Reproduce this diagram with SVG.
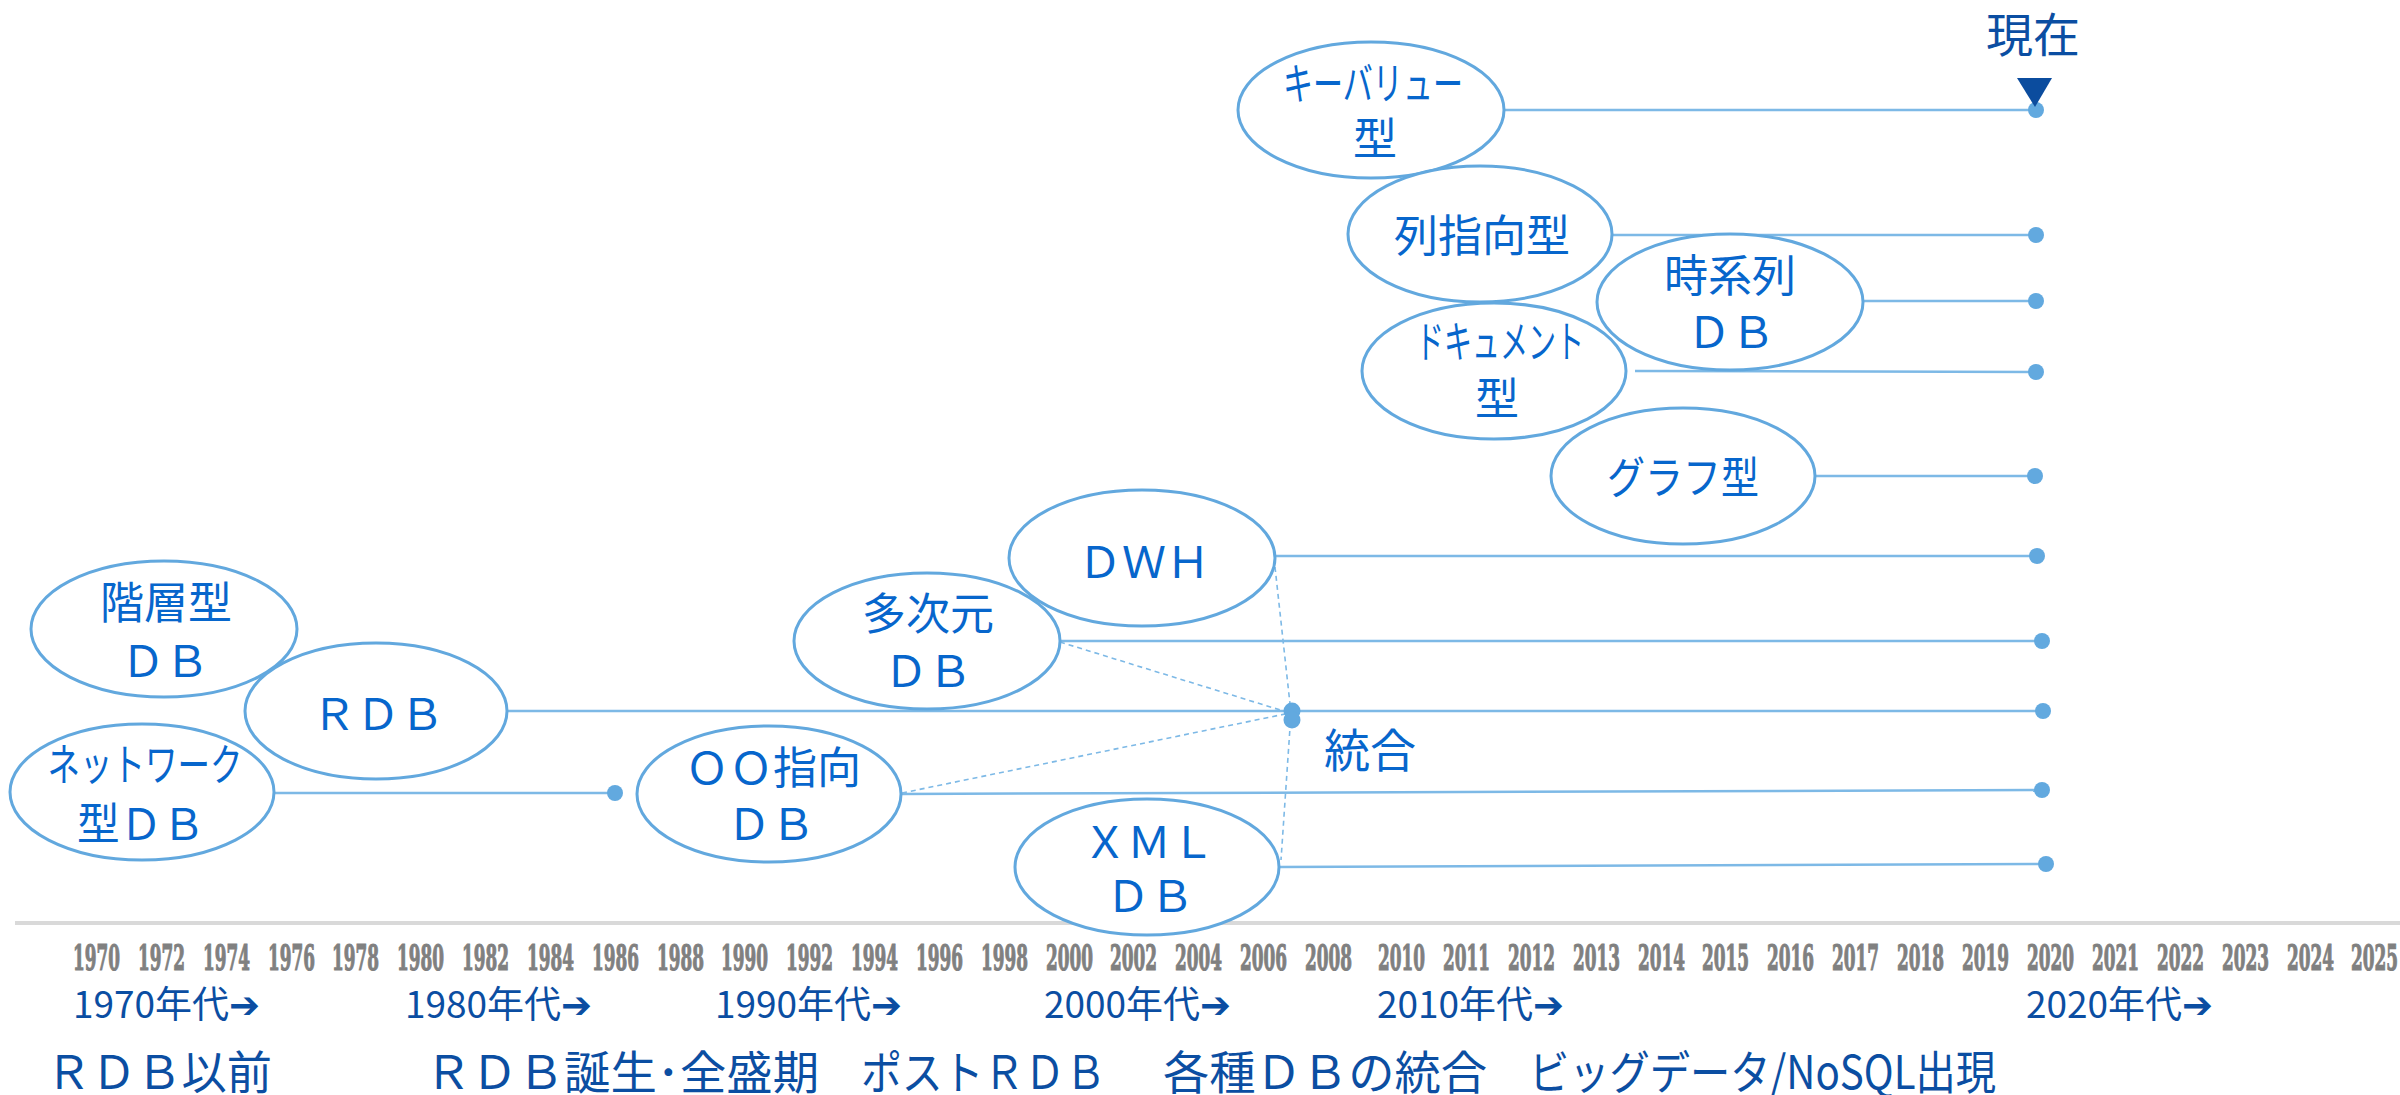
<svg xmlns="http://www.w3.org/2000/svg" width="2400" height="1095" viewBox="0 0 2400 1095">
<style>
.node ellipse{fill:#fff;stroke:#62A8DE;stroke-width:3}
.nt{font-family:"Noto Sans CJK JP","Noto Sans",sans-serif;font-size:44px;fill:#0766CC;text-anchor:middle}
.ln{stroke:#7DB9E6;stroke-width:2.5;fill:none}
.dash{stroke:#7DB9E6;stroke-width:1.6;stroke-dasharray:5 4;fill:none}
.dot{fill:#62A9DF}
.yr{font-family:"DejaVu Serif","Liberation Serif",serif;font-weight:bold;font-size:35px;fill:#808080;stroke:#808080;stroke-width:1.2}
.dec{font-family:"Noto Sans CJK JP","DejaVu Sans",sans-serif;font-size:37px;fill:#0B4EA2}
.era{font-family:"Noto Sans CJK JP","Noto Sans",sans-serif;font-size:46px;fill:#0B4EA2}
</style>
<rect width="2400" height="1095" fill="#fff"/>
<line x1="15" y1="923" x2="2400" y2="923" stroke="#d9d9d9" stroke-width="4"/>

<g id="connectors">
<line class="ln" x1="1504" y1="110" x2="2036" y2="110"/>
<line class="ln" x1="1612" y1="235" x2="2036" y2="235"/>
<line class="ln" x1="1863" y1="301" x2="2036" y2="301"/>
<line class="ln" x1="1635" y1="371" x2="2036" y2="372"/>
<line class="ln" x1="1815" y1="476" x2="2035" y2="476"/>
<line class="ln" x1="1275" y1="556" x2="2037" y2="556"/>
<line class="ln" x1="1060" y1="641" x2="2042" y2="641"/>
<line class="ln" x1="507" y1="711" x2="2043" y2="711"/>
<line class="ln" x1="900" y1="794" x2="2042" y2="790"/>
<line class="ln" x1="1279" y1="867" x2="2046" y2="864"/>
<line class="ln" x1="274" y1="793" x2="615" y2="793"/>
<line class="dash" x1="1275" y1="567" x2="1291" y2="713"/>
<line class="dash" x1="1291" y1="713" x2="1281" y2="860"/>
<line class="dash" x1="1060" y1="642" x2="1290" y2="713"/>
<line class="dash" x1="902" y1="793" x2="1290" y2="713"/>
<circle class="dot" cx="2036" cy="110" r="8"/>
<circle class="dot" cx="2036" cy="235" r="8"/>
<circle class="dot" cx="2036" cy="301" r="8"/>
<circle class="dot" cx="2036" cy="372" r="8"/>
<circle class="dot" cx="2035" cy="476" r="8"/>
<circle class="dot" cx="2037" cy="556" r="8"/>
<circle class="dot" cx="2042" cy="641" r="8"/>
<circle class="dot" cx="2043" cy="711" r="8"/>
<circle class="dot" cx="2042" cy="790" r="8"/>
<circle class="dot" cx="2046" cy="864" r="8"/>
<circle class="dot" cx="615" cy="793" r="8"/>
<circle class="dot" cx="1292" cy="711" r="8.5"/>
<circle class="dot" cx="1292" cy="720" r="8.5"/>
</g>

<g id="node-keyvalue" class="node">
<ellipse cx="1371" cy="110" rx="133" ry="68"/>
<text class="nt" x="1373" y="100" textLength="180" lengthAdjust="spacingAndGlyphs">キーバリュー</text>
<text class="nt" x="1375" y="155">型</text>
</g>
<g id="node-column" class="node">
<ellipse cx="1480" cy="234" rx="132" ry="68"/>
<text class="nt" x="1482" y="252">列指向型</text>
</g>
<g id="node-document" class="node">
<ellipse cx="1494" cy="371" rx="132" ry="68"/>
<text class="nt" x="1500" y="358" textLength="168" lengthAdjust="spacingAndGlyphs">ドキュメント</text>
<text class="nt" x="1497" y="415">型</text>
</g>
<g id="node-timeseries" class="node">
<ellipse cx="1730" cy="302" rx="133" ry="68"/>
<text class="nt" x="1730" y="292">時系列</text>
<text class="nt" x="1731" y="348">ＤＢ</text>
</g>
<g id="node-graph" class="node">
<ellipse cx="1683" cy="476" rx="132" ry="68"/>
<text class="nt" x="1683" y="494" textLength="152" lengthAdjust="spacingAndGlyphs">グラフ型</text>
</g>
<g id="node-dwh" class="node">
<ellipse cx="1142" cy="558" rx="133" ry="68"/>
<text class="nt" x="1144" y="578">ＤＷＨ</text>
</g>
<g id="node-multidim" class="node">
<ellipse cx="927" cy="641" rx="133" ry="68"/>
<text class="nt" x="928" y="630">多次元</text>
<text class="nt" x="928" y="687">ＤＢ</text>
</g>
<g id="node-hierarchical" class="node">
<ellipse cx="164" cy="629" rx="133" ry="68"/>
<text class="nt" x="166" y="619">階層型</text>
<text class="nt" x="165" y="677">ＤＢ</text>
</g>
<g id="node-rdb" class="node">
<ellipse cx="376" cy="711" rx="131" ry="68"/>
<text class="nt" x="378" y="730">ＲＤＢ</text>
</g>
<g id="node-network" class="node">
<ellipse cx="142" cy="792" rx="132" ry="68"/>
<text class="nt" x="145" y="781" textLength="195" lengthAdjust="spacingAndGlyphs">ネットワーク</text>
<text class="nt" x="141" y="840" textLength="128" lengthAdjust="spacingAndGlyphs">型ＤＢ</text>
</g>
<g id="node-oo" class="node">
<ellipse cx="769" cy="794" rx="132" ry="68"/>
<text class="nt" x="773" y="784">ＯＯ指向</text>
<text class="nt" x="771" y="840">ＤＢ</text>
</g>
<g id="node-xml" class="node">
<ellipse cx="1147" cy="867" rx="132" ry="68"/>
<text class="nt" x="1149" y="858">ＸＭＬ</text>
<text class="nt" x="1150" y="912">ＤＢ</text>
</g>

<g id="label-integration">
<text class="nt" x="1324" y="767" style="text-anchor:start;font-size:46px">統合</text>
</g>
<g id="label-now">
<text x="2033" y="52" text-anchor="middle" style="font-family:'Noto Sans CJK JP',sans-serif;font-size:47px;fill:#0B4EA2">現在</text>
<polygon points="2017,78 2052,78 2035,107" fill="#0B4C9E"/>
</g>

<g id="years">
<text class="yr" x="73" y="970" textLength="47" lengthAdjust="spacingAndGlyphs">1970</text>
<text class="yr" x="138" y="970" textLength="47" lengthAdjust="spacingAndGlyphs">1972</text>
<text class="yr" x="203" y="970" textLength="47" lengthAdjust="spacingAndGlyphs">1974</text>
<text class="yr" x="268" y="970" textLength="47" lengthAdjust="spacingAndGlyphs">1976</text>
<text class="yr" x="332" y="970" textLength="47" lengthAdjust="spacingAndGlyphs">1978</text>
<text class="yr" x="397" y="970" textLength="47" lengthAdjust="spacingAndGlyphs">1980</text>
<text class="yr" x="462" y="970" textLength="47" lengthAdjust="spacingAndGlyphs">1982</text>
<text class="yr" x="527" y="970" textLength="47" lengthAdjust="spacingAndGlyphs">1984</text>
<text class="yr" x="592" y="970" textLength="47" lengthAdjust="spacingAndGlyphs">1986</text>
<text class="yr" x="657" y="970" textLength="47" lengthAdjust="spacingAndGlyphs">1988</text>
<text class="yr" x="721" y="970" textLength="47" lengthAdjust="spacingAndGlyphs">1990</text>
<text class="yr" x="786" y="970" textLength="47" lengthAdjust="spacingAndGlyphs">1992</text>
<text class="yr" x="851" y="970" textLength="47" lengthAdjust="spacingAndGlyphs">1994</text>
<text class="yr" x="916" y="970" textLength="47" lengthAdjust="spacingAndGlyphs">1996</text>
<text class="yr" x="981" y="970" textLength="47" lengthAdjust="spacingAndGlyphs">1998</text>
<text class="yr" x="1046" y="970" textLength="47" lengthAdjust="spacingAndGlyphs">2000</text>
<text class="yr" x="1110" y="970" textLength="47" lengthAdjust="spacingAndGlyphs">2002</text>
<text class="yr" x="1175" y="970" textLength="47" lengthAdjust="spacingAndGlyphs">2004</text>
<text class="yr" x="1240" y="970" textLength="47" lengthAdjust="spacingAndGlyphs">2006</text>
<text class="yr" x="1305" y="970" textLength="47" lengthAdjust="spacingAndGlyphs">2008</text>
<text class="yr" x="1378" y="970" textLength="47" lengthAdjust="spacingAndGlyphs">2010</text>
<text class="yr" x="1443" y="970" textLength="47" lengthAdjust="spacingAndGlyphs">2011</text>
<text class="yr" x="1508" y="970" textLength="47" lengthAdjust="spacingAndGlyphs">2012</text>
<text class="yr" x="1573" y="970" textLength="47" lengthAdjust="spacingAndGlyphs">2013</text>
<text class="yr" x="1638" y="970" textLength="47" lengthAdjust="spacingAndGlyphs">2014</text>
<text class="yr" x="1702" y="970" textLength="47" lengthAdjust="spacingAndGlyphs">2015</text>
<text class="yr" x="1767" y="970" textLength="47" lengthAdjust="spacingAndGlyphs">2016</text>
<text class="yr" x="1832" y="970" textLength="47" lengthAdjust="spacingAndGlyphs">2017</text>
<text class="yr" x="1897" y="970" textLength="47" lengthAdjust="spacingAndGlyphs">2018</text>
<text class="yr" x="1962" y="970" textLength="47" lengthAdjust="spacingAndGlyphs">2019</text>
<text class="yr" x="2027" y="970" textLength="47" lengthAdjust="spacingAndGlyphs">2020</text>
<text class="yr" x="2092" y="970" textLength="47" lengthAdjust="spacingAndGlyphs">2021</text>
<text class="yr" x="2157" y="970" textLength="47" lengthAdjust="spacingAndGlyphs">2022</text>
<text class="yr" x="2222" y="970" textLength="47" lengthAdjust="spacingAndGlyphs">2023</text>
<text class="yr" x="2287" y="970" textLength="47" lengthAdjust="spacingAndGlyphs">2024</text>
<text class="yr" x="2351" y="970" textLength="47" lengthAdjust="spacingAndGlyphs">2025</text>
</g>

<g id="decades">
<text class="dec" x="73" y="1018" textLength="187" lengthAdjust="spacingAndGlyphs">1970年代➔</text>
<text class="dec" x="405" y="1018" textLength="187" lengthAdjust="spacingAndGlyphs">1980年代➔</text>
<text class="dec" x="715" y="1018" textLength="187" lengthAdjust="spacingAndGlyphs">1990年代➔</text>
<text class="dec" x="1044" y="1018" textLength="187" lengthAdjust="spacingAndGlyphs">2000年代➔</text>
<text class="dec" x="1377" y="1018" textLength="187" lengthAdjust="spacingAndGlyphs">2010年代➔</text>
<text class="dec" x="2026" y="1018" textLength="187" lengthAdjust="spacingAndGlyphs">2020年代➔</text>
</g>

<g id="eras">
<text class="era" x="46" y="1089" textLength="226" lengthAdjust="spacingAndGlyphs">ＲＤＢ以前</text>
<text class="era" x="425" y="1089" textLength="394" lengthAdjust="spacingAndGlyphs">ＲＤＢ誕生･全盛期</text>
<text class="era" x="861" y="1089" textLength="245" lengthAdjust="spacingAndGlyphs">ポストＲＤＢ</text>
<text class="era" x="1163" y="1089" textLength="324" lengthAdjust="spacingAndGlyphs">各種ＤＢの統合</text>
<text class="era" x="1529" y="1089" textLength="467" lengthAdjust="spacingAndGlyphs">ビッグデータ/NoSQL出現</text>
</g>
</svg>
